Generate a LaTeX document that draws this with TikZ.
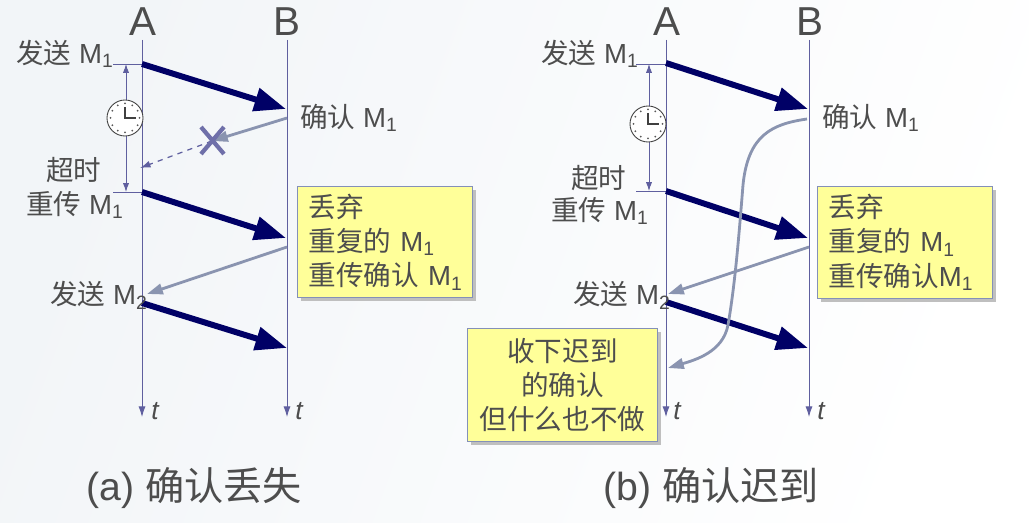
\documentclass[tikz,border=0pt]{standalone}
\usepackage{fontspec}
\usepackage{xcolor}
\setmainfont{Liberation Sans}
\newfontfamily\cjk{Noto Sans CJK SC}
\usetikzlibrary{arrows.meta, positioning, calc, shadows}
\definecolor{lineblue}{HTML}{5F5F9F}
\definecolor{sendnavy}{HTML}{000066}
\definecolor{ackgray}{HTML}{8A94B0}
\definecolor{notefill}{HTML}{FFFF99}
\definecolor{noteedge}{HTML}{8490B8}
\definecolor{inkgray}{HTML}{4D4D4D}
\definecolor{paleback}{HTML}{F2F5F8}
\newcommand{\cn}[1]{{\cjk #1}}
\newcommand{\Msub}[1]{M\textsubscript{#1}}

\tikzset{
    hostlbl/.style={font=\fontsize{23}{23}\selectfont, text=inkgray, inner sep=0pt},
    msglbl/.style={font=\fontsize{15.7}{18}\selectfont, text=inkgray, inner sep=0pt, anchor=west},
    caplbl/.style={font=\fontsize{22.3}{22.3}\selectfont, text=inkgray, inner sep=0pt},
    tlbl/.style={font=\fontsize{15}{15}\selectfont\itshape, text=inkgray, inner sep=0pt},
    axisline/.style={draw=lineblue, line width=0.5pt, -{Latex[length=6pt, width=4pt]}},
    tickline/.style={draw=lineblue, line width=0.45pt},
    timerline/.style={draw=lineblue, line width=0.5pt, {Latex[length=5pt, width=3.5pt]}-{Latex[length=5pt, width=3.5pt]}},
    sendarrow/.style={draw=sendnavy, line width=3.4pt, -{Triangle[length=18pt, width=13pt]}},
    ackarrow/.style={draw=ackgray, line width=1.6pt, -{Triangle[length=9pt, width=6pt]}},
    lostarrow/.style={draw=lineblue, line width=0.7pt, dashed, -{Latex[length=6pt, width=4pt]}},
    crossline/.style={draw=lineblue!90, line width=2.4pt},
    note/.style={draw=noteedge, fill=notefill, line width=0.6pt, text=inkgray, inner sep=0pt,
                 font=\fontsize{15.7}{19.4}\selectfont,
                 drop shadow={shadow xshift=1.9pt, shadow yshift=-1.9pt, opacity=1, fill=black!25}},
    clock/.pic={
        \draw[draw=black!75, fill=white, line width=0.5pt] (0,0) circle (18);
        \foreach \a in {0,30,...,330}
            \fill[black!65] (\a:14.5) circle (1);
        \draw[draw=black!75, line width=1.4pt] (0,-11) -- (0,0) -- (11,0);
    },
}

\begin{document}
\begin{tikzpicture}[x=0.02cm, y=-0.02cm]
    \useasboundingbox (0,0) rectangle (1029,523);
    \shade[left color=paleback, right color=white, shading angle=70] (0,0) rectangle (1029,523);

    % ---------- panel (a)
    \node[hostlbl] (hostA) at (143,22) {A};
    \node[hostlbl] (hostB) at (287,22) {B};
    \coordinate (topA) at (142,40);
    \coordinate (topB) at (287,40);
    \coordinate (endA) at (142,417);
    \coordinate (endB) at (287,417);
    \draw[axisline] (topA) -- (endA);
    \draw[axisline] (topB) -- (endB);
    \node[tlbl] (tA) at (155,411) {t};
    \node[tlbl] (tB) at (299,411) {t};

    \coordinate (send1) at (142,64);
    \coordinate (recv1) at (286,109);
    \coordinate (send2) at (142,192);
    \coordinate (recv2) at (286,238);
    \coordinate (send3) at (142,303);
    \coordinate (recv3) at (287,348);
    \coordinate (ack1) at (287,118);
    \coordinate (lost) at (212,141);
    \coordinate (lostend) at (140,168);
    \coordinate (ack2) at (287,247);
    \coordinate (ackend2) at (147,294);

    % timer between sending and timeout
    \coordinate (tick1l) at (113,64);
    \coordinate (tick2l) at (113,192);
    \coordinate (timer1) at (126,64);
    \coordinate (timer2) at (126,192);
    \draw[tickline] (tick1l) -- (send1);
    \draw[tickline] (tick2l) -- (send2);
    \draw[timerline] (timer1) -- (timer2);
    \pic at (125,118) {clock};

    \draw[sendarrow] (send1) -- (recv1);
    \draw[sendarrow] (send2) -- (recv2);
    \draw[sendarrow] (send3) -- (recv3);
    \draw[ackarrow] (ack1) -- (lost);
    \draw[lostarrow] (lost) -- (lostend);
    \draw[ackarrow] (ack2) -- (ackend2);
    \draw[crossline] (201,127) -- (224,154) (224,127) -- (201,154);

    \node[msglbl] (sendlblA) at (16,54) {\cn{发送} \Msub{1}};
    \node[msglbl] (acklblA) at (300,118) {\cn{确认} \Msub{1}};
    \node[msglbl] (timeoutA) at (46,170) {\cn{超时}};
    \node[msglbl] (resendA) at (26,205) {\cn{重传} \Msub{1}};
    \node[msglbl] (send2lblA) at (50,295) {\cn{发送} \Msub{2}};

    \node[note, anchor=north west, text width=3.5cm, minimum height=2.22cm, align=left] (dropA) at (297,186)
        {\hspace*{0.22cm}\cn{丢弃}\\\hspace*{0.22cm}\cn{重复的} \Msub{1}\\\hspace*{0.22cm}\cn{重传确认} \Msub{1}};

    \node[caplbl] (capA) at (194,488) {(a) \cn{确认丢失}};

    % ---------- panel (b)
    \node[hostlbl] (hostC) at (667,22) {A};
    \node[hostlbl] (hostD) at (810,22) {B};
    \coordinate (topC) at (666,40);
    \coordinate (topD) at (809,40);
    \coordinate (endC) at (666,417);
    \coordinate (endD) at (809,417);
    \draw[axisline] (topC) -- (endC);
    \draw[axisline] (topD) -- (endD);
    \node[tlbl] (tC) at (677,411) {t};
    \node[tlbl] (tD) at (821,411) {t};

    \coordinate (send4) at (666,63);
    \coordinate (recv4) at (808,109);
    \coordinate (send5) at (666,191);
    \coordinate (recv5) at (808,238);
    \coordinate (send6) at (666,302);
    \coordinate (recv6) at (808,348);
    \coordinate (ack3) at (809,247);
    \coordinate (ackend3) at (668,294);
    \coordinate (ack4) at (807,119);
    \coordinate (ackend4) at (668,368);

    \coordinate (tick3l) at (636,64);
    \coordinate (tick3r) at (666,64);
    \coordinate (tick4l) at (636,191);
    \coordinate (timer3) at (649,64);
    \coordinate (timer4) at (649,191);
    \draw[tickline] (tick3l) -- (tick3r);
    \draw[tickline] (tick4l) -- (send5);
    \draw[timerline] (timer3) -- (timer4);
    \pic at (648,124) {clock};

    \draw[sendarrow] (send4) -- (recv4);
    \draw[sendarrow] (send5) -- (recv5);
    \draw[sendarrow] (send6) -- (recv6);
    \draw[ackarrow] (ack3) -- (ackend3);
    % late acknowledgement crossing the later messages
    \draw[ackarrow] (ack4) .. controls (772,124) and (748,135) .. (743,185)
        .. controls (739,235) and (735,285) .. (728,325)
        .. controls (723,352) and (695,360) .. (ackend4);

    \node[msglbl] (sendlblB) at (541,54) {\cn{发送} \Msub{1}};
    \node[msglbl] (acklblB) at (822,118) {\cn{确认} \Msub{1}};
    \node[msglbl] (timeoutB) at (571,178) {\cn{超时}};
    \node[msglbl] (resendB) at (551,211) {\cn{重传} \Msub{1}};
    \node[msglbl] (send2lblB) at (573,295) {\cn{发送} \Msub{2}};

    \node[note, anchor=north west, text width=3.5cm, minimum height=2.24cm, align=left] (dropB) at (817,186)
        {\hspace*{0.22cm}\cn{丢弃}\\\hspace*{0.22cm}\cn{重复的} \Msub{1}\\\hspace*{0.22cm}\cn{重传确认}\Msub{1}};
    \node[note, anchor=north west, text width=3.8cm, minimum height=2.26cm, align=center] (lateB) at (467,328)
        {\cn{收下迟到}\\\cn{的确认}\\\cn{但什么也不做}};

    \node[caplbl] (capB) at (711,488) {(b) \cn{确认迟到}};
\end{tikzpicture}
\end{document}
